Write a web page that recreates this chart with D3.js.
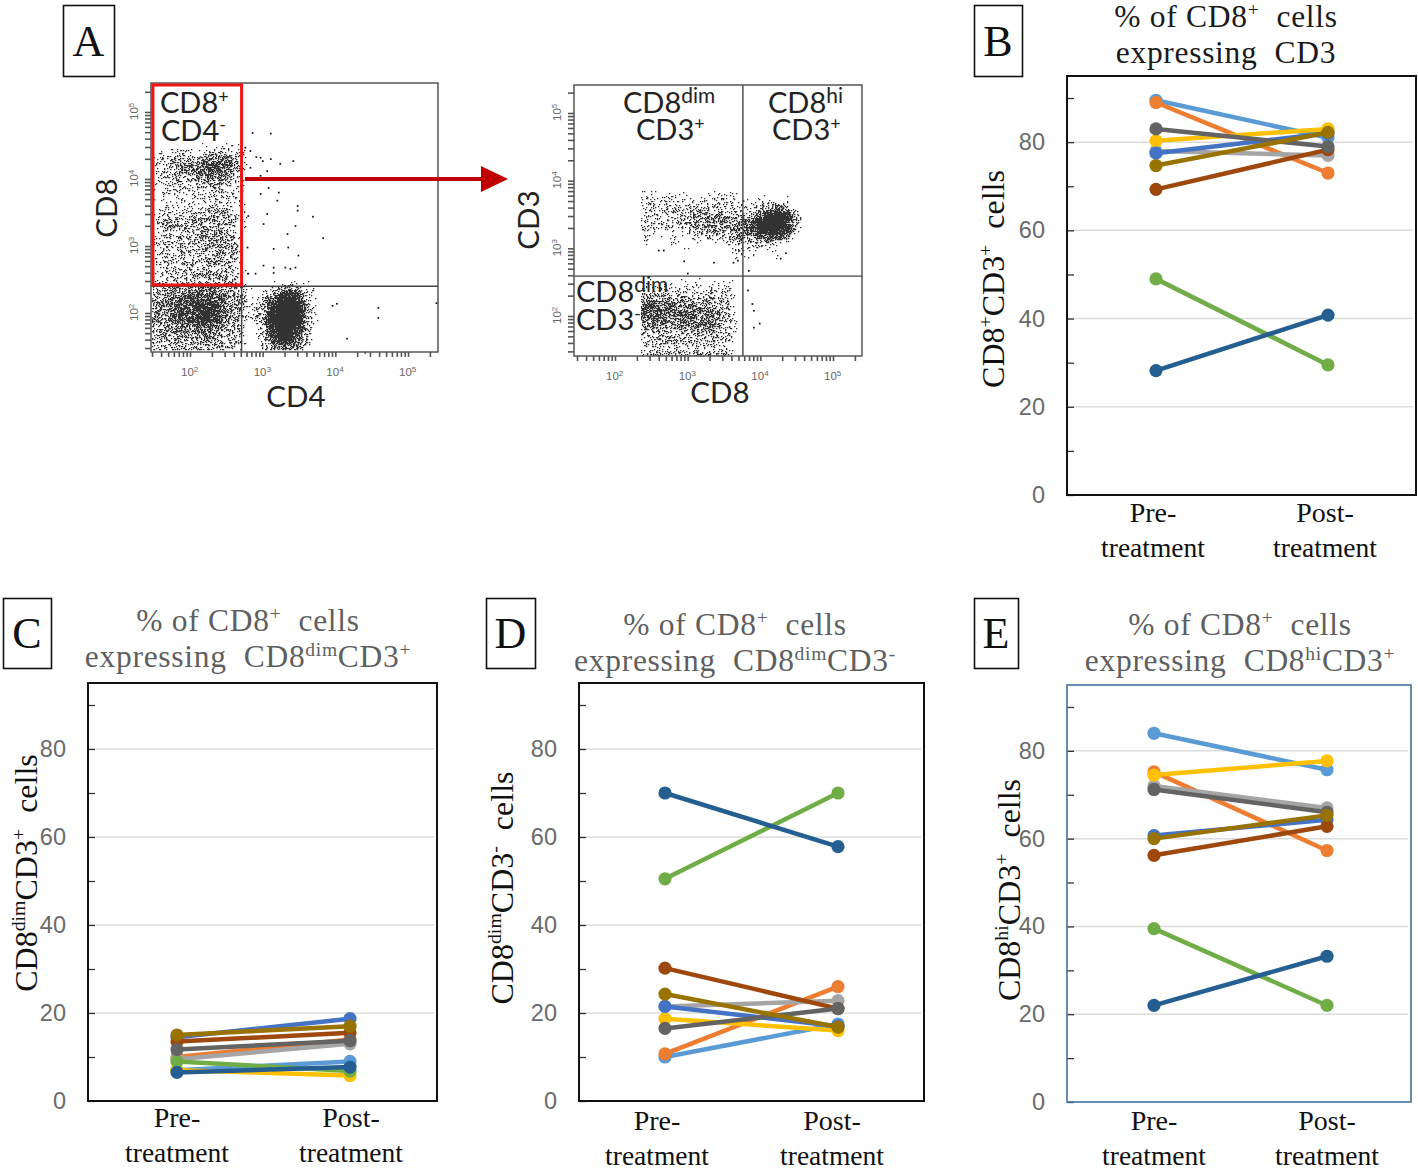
<!DOCTYPE html>
<html><head><meta charset="utf-8">
<script src="https://cdn.jsdelivr.net/npm/d3@7/dist/d3.min.js"></script>
<style>html,body{margin:0;padding:0;background:#fff}svg{display:block}svg text{white-space:pre}</style>
</head><body><div id="chart"></div>
<script>
// ---------- paired line data ----------
const categories = ["Pre-treatment", "Post-treatment"];
const seriesColors = ["#5B9BD5","#ED7D31","#A5A5A5","#FFC000","#4472C4","#70AD47","#255E91","#9E480E","#636363","#997300"];
const panelBPre  = [89.5,89.0,78.0,80.3,77.5,49.0,28.2,69.3,83.0,74.7];
const panelBPost = [81.0,73.0,77.0,83.0,82.0,29.5,40.8,78.3,79.0,82.2];
const panelCPre  = [7.0,10.0,9.5,7.0,14.5,9.0,6.5,13.5,11.7,15.0];
const panelCPost = [9.0,14.0,13.0,5.8,18.7,6.8,7.7,15.5,13.7,17.0];
const panelDPre  = [10.0,10.7,21.5,18.7,21.5,50.5,70.0,30.2,16.5,24.3];
const panelDPost = [17.5,26.0,22.8,16.0,17.0,70.0,57.8,21.0,21.0,16.8];
const panelEPre  = [84.0,75.2,72.0,74.5,60.7,39.5,22.0,56.2,71.2,60.0];
const panelEPost = [75.7,57.3,67.0,77.7,64.3,22.0,33.2,62.8,66.0,65.3];
const yTickValues = [0,10,20,30,40,50,60,70,80,90];
const yLabelValues = [0,20,40,60,80];

// ---------- flow cytometry: density read by eye, 0 (empty) to 9 (solid), per 0.1 decade cell ----------
const flowADensity = [
"00000001001100000000000",
"01122212333210000000000",
"12343435565410000000000",
"12344567876520000000000",
"12233456765410000000000",
"12223334544310000000000",
"11222223333210000000000",
"11221122232210000000000",
"11111112122210000000000",
"11211222222110000000000",
"12223333333210000000000",
"12333344443210000000000",
"12333334443210000000000",
"12223334443210000000000",
"12223334444310000000000",
"12223334444310000000000",
"12223333343210000000000",
"12222333343210000000000",
"12222333333310000000000",
"12223333333210000000000",
"22233333333220000000000",
"33344444443330001233210",
"33445566654330124688621",
"44556777765441136899831",
"34567788875431248999941",
"44567789875431248999941",
"34456779874331249999931",
"33445566653320148999830",
"33344555433220137999720",
"33333444433220135898520",
"33333333333220024565310"];
const flowAOutliers = [[2.85,4.70],[3.10,4.69],[2.75,4.48],[2.82,4.43],[2.90,4.34],[2.99,4.28],[3.10,4.31],[3.41,4.28],[3.23,4.24],[2.96,4.33],[2.82,4.18],[3.05,4.13],[2.96,4.06],[3.07,3.88],[2.96,3.79],[3.19,3.69],[3.21,3.81],[3.47,3.61],[3.47,3.54],[2.79,3.46],[3.05,3.49],[3.68,3.45],[3.44,3.31],[3.33,3.19],[3.82,3.13],[3.00,3.34],[3.14,2.97],[3.34,2.99],[2.78,2.99],[3.48,2.87],[3.00,2.72],[3.14,2.69],[3.14,2.61],[3.30,2.69],[3.37,2.67],[3.44,2.69],[2.79,2.60],[2.89,2.60],[4.01,2.15],[3.95,2.12],[4.58,2.09],[4.58,1.94],[4.15,1.63],[5.38,2.16],[4.40,1.42]];
const flowBDensity = [
"1111111011111100000000",
"2322211121222101111100",
"2222222332222222345531",
"2222223443333334799972",
"2222223445554567999982",
"2222223444444567999971",
"2111112223333445788740",
"1000100101112323333210",
"0000001000001211111000",
"0000000000001101001000",
"0000000000000000000000",
"0000000000000000000000",
"0000000000000000000000",
"1101111111111000000000",
"2212222222222000000000",
"4433332333322000000000",
"6655544443332000000000",
"6666555554432000000000",
"6665566555432000000000",
"5544455565532000000000",
"4333333444322000000000",
"3333333333332000000000",
"2233322222221000000000",
"2222222222221000000000",
"4444444444442000000000"];
const flowBOutliers = [[3.83,2.68],[2.99,2.64],[2.59,2.98],[2.66,2.98],[2.94,2.82],[3.35,2.80],[3.62,2.80],[3.68,2.83],[3.82,2.39],[3.88,2.19],[3.90,2.09],[3.90,1.84],[3.98,1.90],[4.27,2.86],[4.34,2.94]];
const flowDecades = [2,3,4,5];

// ---------- page ----------
const svg = d3.select("#chart").append("svg").attr("width",1418).attr("height",1171).attr("viewBox","0 0 1418 1171");
const SERIF = "'Liberation Serif','Times New Roman',serif";
const SANS = "'Liberation Sans',Arial,sans-serif";
const CAL = "Lato,'Open Sans',sans-serif";

function rich(parent, attrs, segs, size, family, fill, extra){
  const t = parent.append("text").attr("font-family",family).attr("font-size",size).attr("fill",fill);
  Object.entries(attrs).forEach(([k,v])=>t.attr(k,v));
  let raised = false;
  const supScale = (extra&&extra.supScale)||0.62;
  segs.forEach(s=>{
    const sup = typeof s !== "string";
    const sp = t.append("tspan").text(sup ? s.sup : s);
    if(sup){ sp.attr("font-size",size*supScale).attr("dy",-size*0.36); raised = true; }
    else if(raised){ sp.attr("dy",size*0.36); raised = false; }
  });
  return t;
}

// ---------- panel letters ----------
[["A",63,5,51,71],["B",974,5,48,71],["C",3,598,48,70],["D",486,598,49,70],["E",974,598,44,70]].forEach(([l,x,y,w,h])=>{
  svg.append("rect").attr("x",x+.5).attr("y",y+.5).attr("width",w).attr("height",h).attr("fill","#fff").attr("stroke","#111").attr("stroke-width",1.6);
  svg.append("text").attr("x",x+w/2).attr("y",y+h/2+15).attr("text-anchor","middle").attr("font-family",SERIF).attr("font-size",44).attr("fill","#111").text(l);
});

// ---------- line panels ----------
const linePanels = [
 {pre:panelBPre,post:panelBPost,left:1067,right:1416,top:76,bottom:495,px:[1156,1328],lx:[1153,1325],ly:0,frame:"#111",titleFill:"#1a1a1a",titleX:1226,titleY:[27,63],
  lines:[["% of CD8",{sup:"+"},"  cells"],["expressing  CD3"]],axis:["CD8",{sup:"+"},"CD3",{sup:"+"},"  cells"],axisX:1004,axisY:279},
 {pre:panelCPre,post:panelCPost,left:88,right:437,top:683,bottom:1101,px:[177,350],lx:[177,351],ly:-1,frame:"#111",titleFill:"#5f5f5f",titleX:248,titleY:[631,667],
  lines:[["% of CD8",{sup:"+"},"  cells"],["expressing  CD8",{sup:"dim"},"CD3",{sup:"+"}]],axis:["CD8",{sup:"dim"},"CD3",{sup:"+"},"  cells"],axisX:37,axisY:873},
 {pre:panelDPre,post:panelDPost,left:579,right:924,top:683,bottom:1101,px:[665,838],lx:[657,832],ly:2,frame:"#111",titleFill:"#5f5f5f",titleX:735,titleY:[635,671],
  lines:[["% of CD8",{sup:"+"},"  cells"],["expressing  CD8",{sup:"dim"},"CD3",{sup:"-"}]],axis:["CD8",{sup:"dim"},"CD3",{sup:"-"},"  cells"],axisX:513,axisY:888},
 {pre:panelEPre,post:panelEPost,left:1067,right:1411,top:685,bottom:1102,px:[1154,1327],lx:[1154,1327],ly:1,frame:"#41719C",titleFill:"#5f5f5f",titleX:1240,titleY:[635,671],
  lines:[["% of CD8",{sup:"+"},"  cells"],["expressing  CD8",{sup:"hi"},"CD3",{sup:"+"}]],axis:["CD8",{sup:"hi"},"CD3",{sup:"+"},"  cells"],axisX:1020,axisY:890}
];
linePanels.forEach(p=>{
  const g = svg.append("g");
  const y = d3.scaleLinear().domain([0,95]).range([p.bottom,p.top]);
  const x = d3.scalePoint().domain(categories).range(p.px);
  g.selectAll("line.grid").data(yLabelValues.filter(v=>v>0)).join("line")
    .attr("x1",p.left).attr("x2",p.right-3).attr("y1",d=>y(d)).attr("y2",d=>y(d)).attr("stroke","#DCDCDC").attr("stroke-width",1.5);
  const ax = g.append("g").attr("transform",`translate(${p.left},0)`).call(
    d3.axisLeft(y).tickValues(yTickValues).tickSize(-7).tickPadding(22)
      .tickFormat(d=>yLabelValues.includes(d)?d:""));
  ax.select(".domain").remove();
  ax.selectAll(".tick line").attr("stroke","#333").attr("stroke-width",1.3);
  ax.selectAll(".tick text").attr("font-family",SANS).attr("font-size",23.5).attr("fill","#6a6a6a");
  g.append("rect").attr("x",p.left).attr("y",p.top).attr("width",p.right-p.left).attr("height",p.bottom-p.top)
    .attr("fill","none").attr("stroke",p.frame).attr("stroke-width",p.frame==="#111"?2:1.6);
  const line = d3.line().x(d=>x(d.c)).y(d=>y(d.v));
  seriesColors.forEach((col,i)=>{
    const pts = [{c:categories[0],v:p.pre[i]},{c:categories[1],v:p.post[i]}];
    g.append("path").datum(pts).attr("d",line).attr("fill","none").attr("stroke",col).attr("stroke-width",4.5);
    g.selectAll(null).data(pts).join("circle").attr("cx",d=>x(d.c)).attr("cy",d=>y(d.v)).attr("r",6.6).attr("fill",col);
  });
  categories.forEach((c,k)=>{
    const parts = c.split("-");
    g.append("text").attr("x",p.lx[k]).attr("y",p.bottom+27+p.ly).attr("text-anchor","middle").attr("font-family",SERIF).attr("font-size",28).attr("fill","#111").text(parts[0]+"-");
    g.append("text").attr("x",p.lx[k]).attr("y",p.bottom+62+p.ly).attr("text-anchor","middle").attr("font-family",SERIF).attr("font-size",27.5).attr("fill","#111").text(parts[1]);
  });
  p.lines.forEach((segs,i)=>rich(svg,{x:p.titleX,y:p.titleY[i],"text-anchor":"middle","letter-spacing":0.7},segs,31.5,SERIF,p.titleFill));
  rich(svg,{transform:`translate(${p.axisX},${p.axisY}) rotate(-90)`,"text-anchor":"middle"},p.axis,32,SERIF,"#111");
});

// ---------- flow plots ----------
// fixed halftone mask: turns the hand-read density cells into a stipple; the values come from the cells
const mask = (px,py)=>{const f=Math.sin(px*12.9898+py*78.233)*43758.5453;return f-Math.floor(f);};
function stipple(g, rows, lxStart, lyTop, xs, ys, box){
  const cols = rows[0].length;
  const at = (r,c)=>(r<0||c<0||r>=rows.length||c>=cols)?0:+rows[r][c];
  const clampC = c=>Math.max(0,Math.min(cols-1,c)), clampR = r=>Math.max(0,Math.min(rows.length-1,r));
  let d = "";
  for(let py=box.y0;py<box.y1;py++) for(let px=box.x0;px<box.x1;px++){
    const lx = Math.log10(xs.invert(px)), ly = Math.log10(ys.invert(py));
    const cf = (lx-lxStart)/0.1, rf = (lyTop-ly)/0.1;
    if(cf<-0.5||rf<-0.5||cf>cols-0.5||rf>rows.length-0.5) continue;
    const c0=Math.floor(cf), r0=Math.floor(rf), tc=cf-c0, tr=rf-r0;
    const v=(at(clampR(r0),clampC(c0))*(1-tc)+at(clampR(r0),clampC(c0+1))*tc)*(1-tr)+
            (at(clampR(r0+1),clampC(c0))*(1-tc)+at(clampR(r0+1),clampC(c0+1))*tc)*tr;
    if(Math.pow(v/9,1.3) > mask(px,py)) d+=`M${px} ${py}h1.3v1.3h-1.3z`;
  }
  g.append("path").attr("d",d).attr("fill","#0a0a0a").attr("opacity",0.85);
}
const defs = svg.append("defs");
defs.append("filter").attr("id","soft").append("feGaussianBlur").attr("stdDeviation",0.4);

function flowPlot(o){
  const g = svg.append("g");
  const kx = (o.tx[1]-o.tx[0])/3, ky = (o.ty[0]-o.ty[1])/3;
  const x = d3.scaleLog().domain([10**(2+(o.left-o.tx[0])/kx),10**(2+(o.right-o.tx[0])/kx)]).range([o.left,o.right]);
  const y = d3.scaleLog().domain([10**(2+(o.ty[0]-o.bottom)/ky),10**(2+(o.ty[0]-o.top)/ky)]).range([o.bottom,o.top]);
  const dots = g.append("g").attr("filter","url(#soft)");
  stipple(dots,o.density,o.lxStart,o.lyTop,x,y,{x0:o.left+1,x1:o.right,y0:o.top+1,y1:o.bottom});
  dots.selectAll(null).data(o.outliers).join("rect")
    .attr("x",d=>x(10**d[0])).attr("y",d=>y(10**d[1])).attr("width",1.7).attr("height",1.7).attr("fill","#111");
  const minors = d3.range(1,6).flatMap(n=>d3.range(1,10).map(m=>m*10**n));
  const xm = minors.filter(v=>v>x.domain()[0]&&v<x.domain()[1]);
  const ym = minors.filter(v=>v>y.domain()[0]&&v<y.domain()[1]);
  const gx = g.append("g").attr("transform",`translate(0,${o.bottom})`).call(d3.axisBottom(x).tickValues(xm).tickSize(5).tickFormat(""));
  const gy = g.append("g").attr("transform",`translate(${o.left},0)`).call(d3.axisLeft(y).tickValues(ym).tickSize(6).tickFormat(""));
  [gx,gy].forEach(a=>{a.select(".domain").remove();a.selectAll(".tick line").attr("stroke","#555").attr("stroke-width",1.6);});
  flowDecades.forEach(n=>{
    g.append("text").attr("transform",`translate(${x(10**n)-9},${o.bottom+24})`).attr("font-family",SANS).attr("font-size",11.5).attr("fill","#666").text("10")
      .append("tspan").attr("dy",-4).attr("font-size",8).text(n);
    g.append("text").attr("transform",`translate(${o.left-13},${y(10**n)+8}) rotate(-90)`).attr("font-family",SANS).attr("font-size",11.5).attr("fill","#666").text("10")
      .append("tspan").attr("dy",-4).attr("font-size",8).text(n);
  });
  g.append("line").attr("x1",x(10**o.gateX)).attr("x2",x(10**o.gateX)).attr("y1",o.top).attr("y2",o.bottom).attr("stroke","#444").attr("stroke-width",1.4);
  g.append("line").attr("x1",o.left).attr("x2",o.right).attr("y1",y(10**o.gateY)).attr("y2",y(10**o.gateY)).attr("stroke","#444").attr("stroke-width",1.4);
  g.append("rect").attr("x",o.left).attr("y",o.top).attr("width",o.right-o.left).attr("height",o.bottom-o.top).attr("fill","none").attr("stroke","#555").attr("stroke-width",1.5);
  return {x,y};
}
const fa = flowPlot({left:151,right:438,top:83,bottom:352,tx:[190,408],ty:[313,112],gateX:2.71,gateY:2.40,density:flowADensity,lxStart:1.5,lyTop:4.5,outliers:flowAOutliers});
const fb = flowPlot({left:574,right:862,top:85,bottom:356,tx:[615,833],ty:[316,113],gateX:3.76,gateY:2.59,density:flowBDensity,lxStart:2.4,lyTop:3.8,outliers:flowBOutliers});

svg.append("rect").attr("x",fa.x(10**1.49)).attr("y",85).attr("width",fa.x(10**2.71)-fa.x(10**1.49)).attr("height",200).attr("fill","none").attr("stroke","#F01414").attr("stroke-width",3);
svg.append("line").attr("x1",245).attr("x2",484).attr("y1",179).attr("y2",179).attr("stroke","#C00000").attr("stroke-width",4);
svg.append("path").attr("d","M481 166L508 179L481 192Z").attr("fill","#C00000");

const ink = "#222";
const bigSup = {supScale:0.72};
rich(svg,{x:160,y:113},["CD8",{sup:"+"}],29,CAL,ink);
rich(svg,{x:161,y:141},["CD4",{sup:"-"}],29,CAL,ink);
rich(svg,{x:623,y:113},["CD8",{sup:"dim"}],29,CAL,ink,bigSup);
rich(svg,{x:636,y:140},["CD3",{sup:"+"}],29,CAL,ink);
rich(svg,{x:768,y:113},["CD8",{sup:"hi"}],29,CAL,ink,bigSup);
rich(svg,{x:772,y:140},["CD3",{sup:"+"}],29,CAL,ink);
rich(svg,{x:576,y:302},["CD8",{sup:"dim"}],29,CAL,ink,bigSup);
rich(svg,{x:576,y:330},["CD3",{sup:"-"}],29,CAL,ink);
rich(svg,{x:296,y:407,"text-anchor":"middle"},["CD4"],29.5,CAL,ink);
rich(svg,{x:720,y:403,"text-anchor":"middle"},["CD8"],29.5,CAL,ink);
rich(svg,{transform:"translate(117,208) rotate(-90)","text-anchor":"middle"},["CD8"],29.5,CAL,ink);
rich(svg,{transform:"translate(539,220) rotate(-90)","text-anchor":"middle"},["CD3"],29.5,CAL,ink);
</script></body></html>
